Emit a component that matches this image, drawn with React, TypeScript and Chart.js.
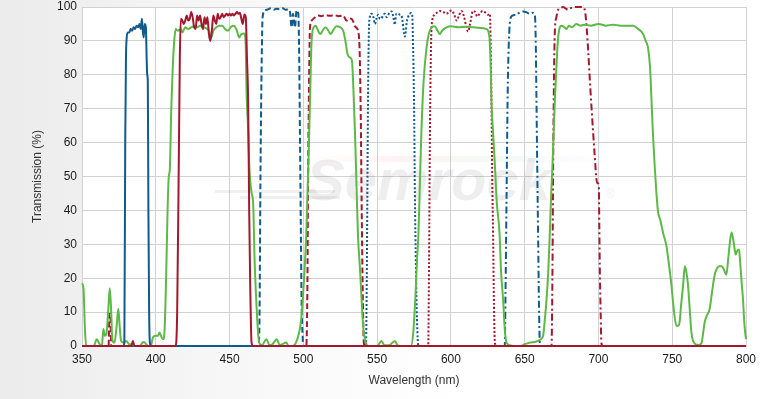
import React, { useEffect, useRef } from "react";
import { Chart, registerables } from "chart.js";

Chart.register(...registerables);

// ---- Data (wavelength nm / transmission %) ----
const xTicks = [350, 400, 450, 500, 550, 600, 650, 700, 750, 800];
const yTicks = [0, 10, 20, 30, 40, 50, 60, 70, 80, 90, 100];

const redSolidNm = [350, 383.5, 384.5, 385.5, 413.5, 414.5, 415.5, 416.3, 417, 418, 419, 420, 421, 422, 423, 424, 425, 426, 427, 428, 429, 430, 431, 432, 433, 434, 435, 436, 437, 438, 439, 440, 441, 442, 443, 444, 445, 446, 447, 448, 449, 450, 451, 452, 453, 454, 455, 456, 457, 458, 459, 460, 461, 461.8, 462.6, 463.3, 464, 464.9, 466, 800];
const redSolidT = [0, 0, 1.5, 0, 0, 10, 50, 85, 96.5, 96, 95, 96, 97.5, 96, 96.5, 98.5, 97, 94, 93.5, 97.5, 96, 97.5, 95, 93.5, 97, 95, 97, 92, 90, 93, 97.5, 96, 95, 98, 96.5, 97, 98, 97, 97.5, 98, 97.5, 98, 97.5, 98, 97.5, 98, 98.5, 98, 98.3, 96.5, 95, 97.8, 97, 85, 72, 40, 18, 1, 0, 0];

const blueSolidNm = [350, 378, 378.7, 379.3, 379.8, 380.3, 381, 382, 383, 384, 385, 386, 387, 388, 389, 389.8, 390.6, 391.2, 391.8, 392.5, 393.3, 393.8, 394.2, 394.6, 395, 395.5, 396, 397, 800];
const blueSolidT = [0, 0, 1, 60, 85, 91, 92.5, 92.5, 93.5, 93, 94, 93.5, 94.5, 94, 95, 93.5, 96.5, 93, 91, 95, 94, 85, 80, 78, 40, 10, 1, 0, 0];

const blueDashNm = [350, 469.5, 470.2, 471, 471.8, 472.4, 474, 476, 478, 480, 482, 484, 486, 488, 490, 491, 492, 493, 494.3, 495.4, 496.6, 497.2, 497.7, 498.3, 498.8, 499.5, 500, 800];
const blueDashT = [0, 0, 5, 53, 85, 97, 99, 99.3, 99.6, 99.2, 99.5, 99.3, 99.6, 99.2, 99.3, 98.5, 94, 98, 94, 99, 98, 85, 63, 35, 13.6, 3, 0, 0];

const redDashNm = [350, 368, 368.6, 369.2, 369.8, 502, 502.7, 503.3, 504, 504.5, 505.6, 508, 510, 512, 515, 518, 521, 524, 527, 529.3, 531, 532.7, 534, 535, 537.2, 538, 538.4, 539, 539.5, 540.3, 541, 542, 800];
const redDashT = [0, 0, 9.5, 9.5, 0, 0, 15, 53, 82, 94, 96, 97, 97.5, 97.3, 97.6, 97.4, 97.6, 97.3, 97.5, 96, 96.6, 96.5, 95.5, 94.3, 92.8, 89, 82.5, 65, 43, 15, 1, 0, 0];

const blueDotNm = [350, 542.4, 543, 543.5, 544, 544.7, 546.3, 547.5, 548.5, 549.5, 550.8, 552, 553, 554, 555.3, 556.5, 557.5, 558.5, 559.8, 561, 562, 563, 564.3, 565.5, 566.5, 567.2, 568, 568.8, 569.5, 570, 571, 572.2, 573, 573.8, 574.3, 575, 575.6, 576.3, 577, 578, 800];
const blueDotT = [0, 0, 20, 53, 80, 96, 98, 97, 95, 96.5, 97.7, 96.5, 96.7, 97.5, 98, 97, 97.7, 98.3, 98.7, 97, 94.8, 98, 98, 97.7, 97.5, 96, 93, 91.3, 93, 95.3, 97, 98, 98.2, 97.7, 90, 72.6, 45, 23, 8, 0, 0];

const redDotNm = [350, 584.6, 585.2, 585.8, 586.4, 587, 589, 590.5, 592.5, 595, 597, 599, 600.5, 602, 604, 605.5, 607.2, 609, 610.5, 611.7, 613, 615, 616.5, 617.8, 619.5, 621.5, 623, 625.3, 626.4, 627, 627.5, 628, 628.6, 629.2, 629.8, 631, 800];
const redDotT = [0, 0, 25, 63, 85, 94.8, 97.7, 98.3, 98.8, 98.5, 98, 98.7, 99, 98, 96, 97.5, 98.8, 97, 94, 92.8, 95, 98.8, 98.5, 97.2, 98, 98.8, 98.5, 97.7, 98, 88, 72, 50, 33, 12, 1, 0, 0];

const blueDashDotNm = [350, 636.5, 637, 637.7, 638.5, 639.5, 641, 642.5, 644.4, 646, 649, 651, 653.5, 655, 656.9, 657.5, 658, 658.6, 659.1, 659.7, 660.3, 661, 800];
const blueDashDotT = [0, 0, 15, 43, 75, 92, 97.2, 97.6, 97.7, 98.2, 98.7, 98.5, 98, 98.3, 97.7, 90, 72.6, 50, 33, 12, 0.8, 0, 0];

const redDashDotNm = [350, 668.2, 668.8, 669.3, 669.9, 670.4, 671.5, 672.7, 674, 676, 678, 679.4, 681, 684, 686, 688.5, 690.7, 692, 693, 694.5, 696.4, 697.5, 698.6, 699.5, 700.2, 700.6, 700.9, 701.5, 702, 703, 800];
const redDashDotT = [0, 0, 20, 53, 80, 92.3, 97, 99.2, 99.6, 100, 99.5, 99.2, 99.6, 100, 100, 100, 99.2, 94, 87.4, 76, 63, 56, 49.4, 48, 47.5, 35, 23.6, 10, 0.8, 0, 0];

const greenNm = [350, 351, 352, 352.8, 358, 360, 362, 363.5, 364.5, 365.5, 366.5, 368, 368.8, 369.8, 370.5, 372, 373.5, 374.6, 375.5, 376.5, 378, 380, 382, 384, 386, 389, 391, 392, 393.5, 395, 397, 398, 400, 401.5, 402.5, 404, 405, 406, 407, 408, 408.8, 409.5, 410.5, 411.5, 412.5, 413.5, 415, 417, 418, 420, 422, 424, 426, 428, 430, 432, 434, 436, 437.5, 439, 441, 443, 445, 447, 449, 451, 453, 455, 456.5, 458, 460, 461, 461.5, 462.5, 463.5, 465, 466, 467, 468.5, 469.5, 470.6, 472, 475, 477, 479, 482, 484, 488.5, 490, 493, 495, 496.6, 498, 499, 500.5, 502, 503.5, 504.5, 505.6, 507, 508.5, 510, 511.5, 513, 515, 517, 518.5, 520, 522.5, 525, 527, 528.5, 530, 532, 533, 534, 535, 536, 537, 538.5, 539.5, 540.5, 541.7, 543, 544, 550, 553, 555, 558, 562, 564, 568, 573, 574.5, 576, 577, 578, 579, 580, 581.5, 583.5, 585, 587, 589, 591, 592.5, 594, 597, 600, 605, 610, 615, 620, 624, 626, 627, 627.5, 628.6, 630, 631, 633, 634, 635.4, 636.5, 637.7, 640, 642, 647, 650, 653.5, 657, 659, 661, 662.5, 663.5, 664.8, 666, 667, 668, 669, 670.4, 671.5, 672.5, 673.8, 675, 677, 678.3, 680, 682, 685, 688, 690, 695, 700, 705, 710, 715, 720, 723.5, 727, 730.3, 732, 733.6, 735, 736, 737, 738.2, 739.3, 740.4, 742, 744, 746, 747.5, 749.5, 751, 752.8, 754, 755, 756, 757.4, 758.5, 759.5, 760.7, 762, 763, 765, 768, 769.8, 771, 772, 773.5, 775.4, 777, 778.8, 780.5, 782, 783.5, 784.5, 785.5, 786.7, 788, 789.5, 790.3, 791.5, 792.5, 793, 794, 795.3, 796, 797, 798, 799, 800];
const greenT = [18.5, 17, 5, 0, 0, 2, 0.5, 0, 5, 3, 3.5, 12, 17, 10, 2, 1, 6, 11, 6, 1.5, 1, 1.5, 0.5, 0.5, 0, 0, 1, 1.2, 0.5, 0, 0.5, 2.5, 3, 3, 4, 2.5, 2, 5, 20, 40, 50, 52, 70, 82, 90, 93.5, 93, 93.5, 92.5, 94, 93.5, 94, 94.3, 94, 94.5, 94, 93.8, 93, 91, 93, 94, 94.5, 94.5, 93.5, 93, 94.2, 94.5, 93, 91, 92, 92.2, 88, 75, 65, 52, 45, 42, 25, 10, 3, 0.5, 0.3, 2, 0.3, 0.5, 2, 0.3, 1, 0, 0, 1, 3, 6, 10, 20, 33, 55, 72, 90, 94, 94.5, 93, 92, 93, 94, 93, 92, 93, 94.3, 94, 93, 90, 86, 85, 84, 75, 63, 48, 33, 22, 13.5, 6, 2, 0.3, 0, 0, 1.5, 0.2, 0.2, 1.5, 0.2, 0, 0, 4, 15, 25, 33, 48, 63, 78, 88, 92, 94, 94.3, 93, 92, 93, 94, 94.3, 94, 94.2, 94, 93.8, 93.5, 91.5, 82, 72, 63, 52, 43, 33, 22, 13.6, 5, 1, 0.2, 0, 0, 0.5, 1, 1.2, 1.5, 2, 3, 7, 13.6, 22, 33, 45, 55, 72, 82, 90, 94, 94.5, 94, 93.5, 94.5, 94, 95, 94.5, 94.8, 94.5, 95, 94.5, 94.8, 94.5, 94.5, 94.5, 93.5, 92, 90, 88, 82, 72, 62, 52.5, 45, 39.6, 37, 33, 29.7, 25, 17.8, 11, 6, 6, 7, 12, 18, 23.5, 22, 18, 10, 4, 0.8, 0.3, 0.8, 4, 7, 9, 11, 16, 21, 23, 23.5, 23.5, 23, 22, 21, 26, 32, 33.5, 31, 28, 27, 28, 28.5, 25, 19, 13.6, 6, 2];

const BLUE = "#0f5b8d";
const RED = "#a4182f";
const GREEN = "#5cb947";

function pts(xs: number[], ys: number[]) {
  return xs.map((x, i) => ({ x, y: ys[i] }));
}

const FONT = "'Liberation Sans', Arial, sans-serif";

const bgPlugin = {
  id: "bgPlugin",
  beforeDraw(chart: any) {
    const { ctx, chartArea } = chart;
    ctx.save();
    ctx.fillStyle = "#ffffff";
    ctx.fillRect(chartArea.left, chartArea.top, chartArea.right - chartArea.left, chartArea.bottom - chartArea.top);
    ctx.restore();
  },
  beforeDatasetsDraw(chart: any) {
    const { ctx, chartArea } = chart;
    ctx.save();
    ctx.beginPath();
    ctx.rect(chartArea.left, chartArea.top, chartArea.right - chartArea.left, chartArea.bottom - chartArea.top);
    ctx.clip();
    ctx.fillStyle = "rgba(0,0,0,0.06)";
    ctx.fillRect(215, 190, 120, 3);
    ctx.fillRect(240, 196, 100, 3);
    const g = ctx.createLinearGradient(300, 0, 610, 0);
    g.addColorStop(0, "rgba(255,200,120,0.0)");
    g.addColorStop(0.3, "rgba(255,150,150,0.12)");
    g.addColorStop(0.6, "rgba(150,220,150,0.12)");
    g.addColorStop(1, "rgba(150,150,255,0.0)");
    ctx.fillStyle = g;
    ctx.fillRect(300, 156, 310, 6);
    ctx.font = `italic bold 58px ${FONT}`;
    ctx.fillStyle = "rgba(0,0,0,0.065)";
    ctx.textAlign = "left";
    ctx.textBaseline = "alphabetic";
    ctx.fillText("Semrock", 306, 200);
    ctx.font = `12px ${FONT}`;
    ctx.fillText("®", 606, 198);
    ctx.restore();
  },
};

export default function App() {
  const ref = useRef<HTMLCanvasElement | null>(null);
  useEffect(() => {
    if (!ref.current) return;
    const mk = (data: any, color: string, dash: number[]) => ({
      data,
      borderColor: color,
      backgroundColor: color,
      borderWidth: 2,
      borderDash: dash,
      pointRadius: 0,
      fill: false,
      cubicInterpolationMode: "monotone" as const,
      clip: 3,
    });
    const chart = new Chart(ref.current, {
      type: "line",
      data: {
        datasets: [
          mk(pts(redSolidNm, redSolidT), RED, []),
          mk(pts(blueSolidNm, blueSolidT), BLUE, []),
          mk(pts(greenNm, greenT), GREEN, []),
          mk(pts(blueDashNm, blueDashT), BLUE, [6, 3]),
          mk(pts(redDashNm, redDashT), RED, [6, 3]),
          mk(pts(blueDotNm, blueDotT), BLUE, [2, 2]),
          mk(pts(redDotNm, redDotT), RED, [2, 2]),
          mk(pts(blueDashDotNm, blueDashDotT), BLUE, [7, 3, 2, 3]),
          mk(pts(redDashDotNm, redDashDotT), RED, [7, 3, 2, 3]),
        ],
      },
      options: {
        responsive: false,
        animation: false,
        parsing: false as any,
        layout: { padding: { left: 0, right: 14, top: 7, bottom: 0 } },
        plugins: { legend: { display: false }, tooltip: { enabled: false } },
        scales: {
          x: {
            type: "linear",
            min: 350,
            max: 800,
            afterBuildTicks: (s: any) => {
              s.ticks = xTicks.map((v) => ({ value: v }));
            },
            afterFit: (s: any) => {
              s.height = 53;
              s.paddingLeft = 0;
              s.paddingRight = 0;
            },
            ticks: { color: "#1a1a1a", font: { family: FONT, size: 12 }, padding: 6, maxRotation: 0, autoSkip: false },
            grid: { color: "#d2d2d2", drawTicks: false },
            border: { color: "#d2d2d2" },
            title: { display: true, text: "Wavelength (nm)", color: "#333", font: { family: FONT, size: 12 }, padding: { top: 0, bottom: 11 } },
          },
          y: {
            min: 0,
            max: 100,
            afterBuildTicks: (s: any) => {
              s.ticks = yTicks.map((v) => ({ value: v }));
            },
            afterFit: (s: any) => {
              s.width = 82;
              s.paddingTop = 0;
              s.paddingBottom = 0;
            },
            ticks: { color: "#1a1a1a", font: { family: FONT, size: 12 }, padding: 5, autoSkip: false },
            grid: { color: "#d2d2d2", drawTicks: false },
            border: { color: "#d2d2d2" },
            title: { display: true, text: "Transmission (%)", color: "#333", font: { family: FONT, size: 12 }, padding: { top: 30, bottom: 0 } },
          },
        },
      },
      plugins: [bgPlugin],
    });
    return () => chart.destroy();
  }, []);
  return (
    <div
      style={{
        position: "fixed",
        left: 0,
        top: 0,
        width: 760,
        height: 399,
        background: "linear-gradient(to right, #ebebeb 0%, #f7f7f7 30%, #ffffff 60%, #ffffff 100%)",
      }}
    >
      <canvas ref={ref} width={760} height={399} style={{ display: "block" }} />
    </div>
  );
}
